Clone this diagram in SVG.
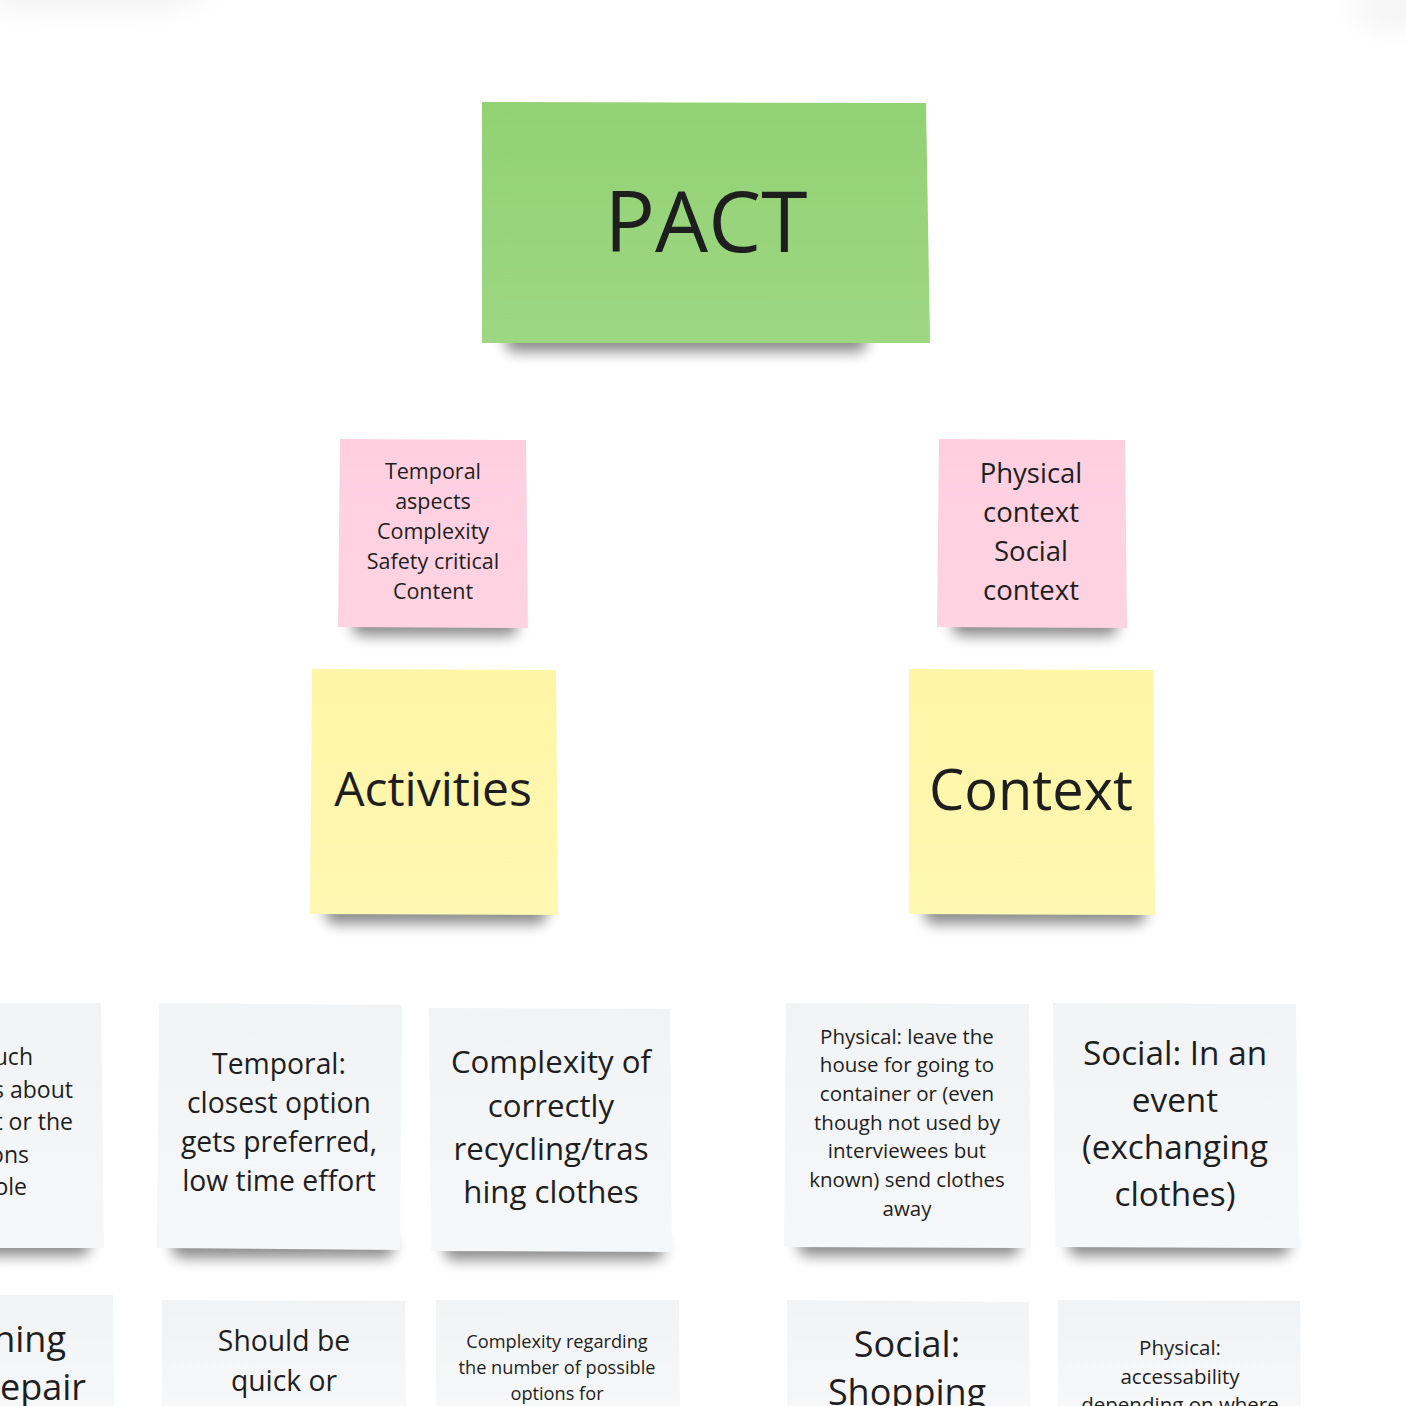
<svg xmlns="http://www.w3.org/2000/svg" width="1406" height="1406" viewBox="0 0 1406 1406">
<defs>
<filter id="sh" x="-20%" y="-80%" width="140%" height="260%"><feGaussianBlur stdDeviation="7"/></filter>
<filter id="sh2" x="-50%" y="-50%" width="200%" height="200%"><feGaussianBlur stdDeviation="14"/></filter>
<linearGradient id="gGreen" x1="0" y1="0" x2="0" y2="1"><stop offset="0" stop-color="#92d174"/><stop offset="1" stop-color="#9dd782"/></linearGradient>
<linearGradient id="gPink" x1="0" y1="0" x2="0" y2="1"><stop offset="0" stop-color="#ffcfe0"/><stop offset="1" stop-color="#ffd3e2"/></linearGradient>
<linearGradient id="gYellow" x1="0" y1="0" x2="0" y2="1"><stop offset="0" stop-color="#fff5a6"/><stop offset="1" stop-color="#fff8b2"/></linearGradient>
<linearGradient id="gGray" x1="0" y1="0" x2="0" y2="1"><stop offset="0" stop-color="#f2f3f5"/><stop offset="1" stop-color="#f6f7f9"/></linearGradient>
</defs>
<style>
text{font-family:"Open Sans","Noto Sans","DejaVu Sans",sans-serif;fill:#1e1e1e;text-anchor:middle}
.shadow{fill:#000;opacity:0.45;filter:url(#sh)}
.green{fill:url(#gGreen)}
.pink{fill:url(#gPink)}
.yellow{fill:url(#gYellow)}
.gray{fill:url(#gGray)}
.end{text-anchor:end}
</style>
<rect width="1406" height="1406" fill="#ffffff"/>
<ellipse cx="90" cy="-10" rx="120" ry="22" fill="#000" opacity="0.05" filter="url(#sh2)"/>
<ellipse cx="1400" cy="8" rx="50" ry="22" fill="#000" opacity="0.04" filter="url(#sh2)"/>

<g id="connectors"></g>

<g id="pact">
<rect class="shadow" x="505" y="326" width="362" height="26" rx="10"/>
<polygon class="green" points="482,102 926,103 930,343 482,343"/>
<text x="706" y="252" font-size="84">PACT</text>
</g>

<g id="pink-activities">
<rect class="shadow" x="352" y="612" width="166" height="24" rx="10"/>
<polygon class="pink" points="340,439 526,440 528,628 338,627"/>
<text font-size="21.5"><tspan x="433" y="479">Temporal</tspan><tspan x="433" y="509">aspects</tspan><tspan x="433" y="539">Complexity</tspan><tspan x="433" y="569">Safety critical</tspan><tspan x="433" y="599">Content</tspan></text>
</g>

<g id="pink-context">
<rect class="shadow" x="952" y="612" width="166" height="24" rx="10"/>
<polygon class="pink" points="939,439 1125,440 1127,628 937,627"/>
<text font-size="27.5"><tspan x="1031" y="483">Physical</tspan><tspan x="1031" y="522">context</tspan><tspan x="1031" y="561">Social</tspan><tspan x="1031" y="600">context</tspan></text>
</g>

<g id="activities">
<rect class="shadow" x="325" y="898" width="222" height="26" rx="10"/>
<polygon class="yellow" points="312,669 556,670 558,915 310,914"/>
<text x="433" y="806" font-size="48">Activities</text>
</g>

<g id="context">
<rect class="shadow" x="924" y="898" width="222" height="26" rx="10"/>
<polygon class="yellow" points="909,669 1153,670 1155,915 909,914"/>
<text x="1031" y="810" font-size="56">Context</text>
</g>

<g id="note-left-1">
<rect class="shadow" x="-20" y="1232" width="110" height="24" rx="10"/>
<polygon class="gray" points="0,1003 101,1003 104,1248 0,1248"/>
<text font-size="23" class="end"><tspan x="33" y="1065">uch</tspan><tspan x="73" y="1098">s about</tspan><tspan x="73" y="1130">t or the</tspan><tspan x="29" y="1163">ons</tspan><tspan x="27" y="1195">ole</tspan></text>
</g>

<g id="note-temporal">
<rect class="shadow" x="172" y="1234" width="222" height="24" rx="10"/>
<polygon class="gray" points="159,1003 402,1005 400,1250 157,1248"/>
<text font-size="28.3"><tspan x="279" y="1074">Temporal:</tspan><tspan x="279" y="1113">closest option</tspan><tspan x="279" y="1152">gets preferred,</tspan><tspan x="279" y="1191">low time effort</tspan></text>
</g>

<g id="note-complexity">
<rect class="shadow" x="444" y="1236" width="220" height="24" rx="10"/>
<polygon class="gray" points="429,1008 670,1009 672,1252 431,1251"/>
<text font-size="31.2"><tspan x="551" y="1073">Complexity of</tspan><tspan x="551" y="1117">correctly</tspan><tspan x="551" y="1160">recycling/tras</tspan><tspan x="551" y="1203">hing clothes</tspan></text>
</g>

<g id="note-physical-leave">
<rect class="shadow" x="798" y="1232" width="222" height="24" rx="10"/>
<polygon class="gray" points="786,1003 1029,1004 1031,1248 784,1247"/>
<text font-size="20.5"><tspan x="907" y="1044">Physical: leave the</tspan><tspan x="907" y="1072">house for going to</tspan><tspan x="907" y="1101">container or (even</tspan><tspan x="907" y="1130">though not used by</tspan><tspan x="907" y="1158">interviewees but</tspan><tspan x="907" y="1187">known) send clothes</tspan><tspan x="907" y="1216">away</tspan></text>
</g>

<g id="note-social-event">
<rect class="shadow" x="1068" y="1232" width="222" height="24" rx="10"/>
<polygon class="gray" points="1053,1003 1296,1004 1299,1248 1055,1247"/>
<text font-size="33.3"><tspan x="1175" y="1065">Social: In an</tspan><tspan x="1175" y="1112">event</tspan><tspan x="1175" y="1159">(exchanging</tspan><tspan x="1175" y="1206">clothes)</tspan></text>
</g>

<g id="note-left-2">
<polygon class="gray" points="0,1295 113,1295 114,1406 0,1406"/>
<text font-size="36" class="end"><tspan x="66" y="1352">ning</tspan><tspan x="86" y="1400">epair</tspan></text>
</g>

<g id="note-should">
<polygon class="gray" points="162,1300 405,1301 406,1406 162,1406"/>
<text font-size="28.3"><tspan x="284" y="1351">Should be</tspan><tspan x="284" y="1391">quick or</tspan></text>
</g>

<g id="note-complexity-2">
<polygon class="gray" points="436,1300 679,1300 680,1406 436,1406"/>
<text font-size="18.2"><tspan x="557" y="1348">Complexity regarding</tspan><tspan x="557" y="1374">the number of possible</tspan><tspan x="557" y="1400">options for</tspan></text>
</g>

<g id="note-social-shopping">
<polygon class="gray" points="787,1300 1029,1302 1030,1406 787,1406"/>
<text font-size="36"><tspan x="907" y="1357">Social:</tspan><tspan x="907" y="1405">Shopping</tspan></text>
</g>

<g id="note-physical-access">
<polygon class="gray" points="1058,1300 1300,1301 1301,1406 1058,1406"/>
<text font-size="20.5"><tspan x="1180" y="1355">Physical:</tspan><tspan x="1180" y="1384">accessability</tspan><tspan x="1180" y="1412">depending on where</tspan></text>
</g>
</svg>
